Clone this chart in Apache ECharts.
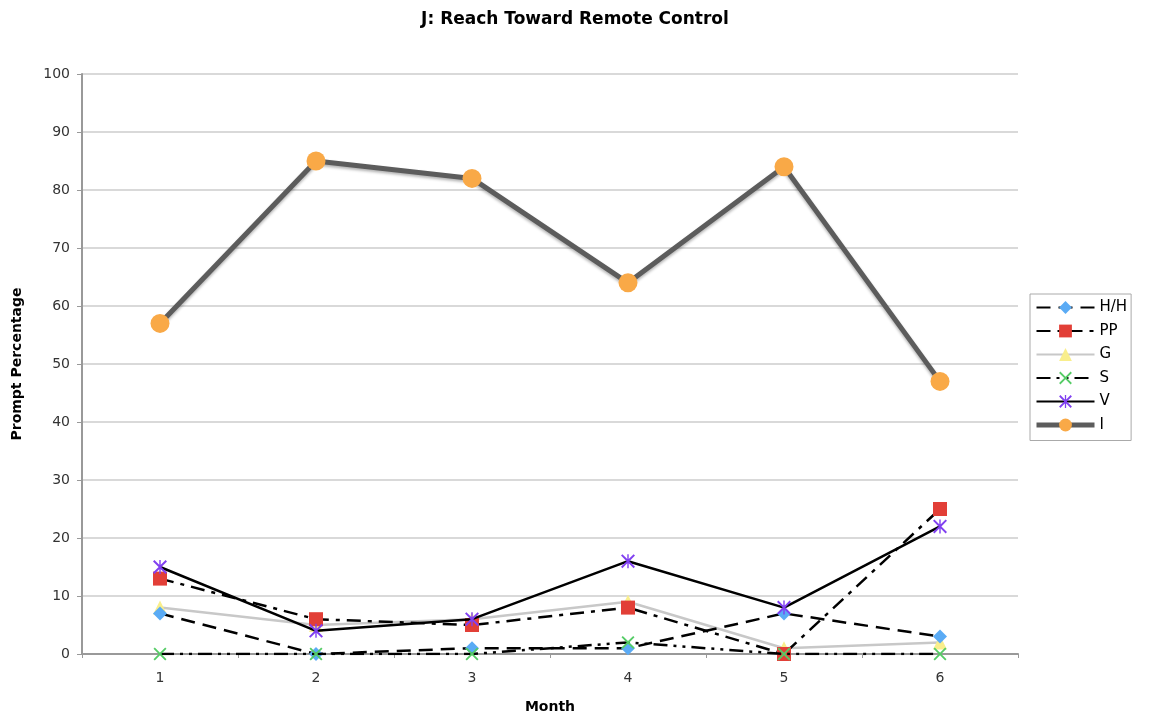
<!DOCTYPE html>
<html>
<head>
<meta charset="utf-8">
<script src="https://cdn.jsdelivr.net/npm/echarts@6/dist/echarts.min.js"></script>
<style>
  html, body { margin: 0; padding: 0; background: #fff; }
  #chart { width: 1150px; height: 719px; }
</style>
</head>
<body>
<div id="chart"></div>
<script>
// 数据
const months = ['1', '2', '3', '4', '5', '6']
const hh = [7, 0, 1, 1, 7, 3]
const pp = [13, 6, 5, 8, 0, 25]
const g = [8, 5, 6, 9, 1, 2]
const s = [0, 0, 0, 2, 0, 0]
const v = [15, 4, 6, 16, 8, 22]
const iVals = [57, 85, 82, 64, 84, 47]

// 自定义符号
const xPath = 'path://M0,2 L2,0 L10,8 L18,0 L20,2 L12,10 L20,18 L18,20 L10,12 L2,20 L0,18 L8,10 Z'
const starPath = 'path://M0,2 L2,0 L10,8 L18,0 L20,2 L12,10 L20,18 L18,20 L10,12 L2,20 L0,18 L8,10 Z M9,0 L11,0 L11,20 L9,20 Z'

const myChart = echarts.init(document.querySelector('#chart'))

const mk = (name, data, line, symbol, size, color, z) => ({
  name,
  type: 'line',
  data,
  symbol,
  symbolSize: size,
  z,
  itemStyle: { color, borderWidth: 0 },
  lineStyle: line,
  emphasis: { disabled: true },
  animation: false
})

const option = {
  title: {
    text: 'J: Reach Toward Remote Control',
    left: 'center',
    top: 6,
    textStyle: { fontFamily: 'DejaVu Sans', fontSize: 17, fontWeight: 'bold', color: '#000' }
  },
  grid: { left: 82, right: 132, top: 74, bottom: 65, containLabel: false, outerBoundsMode: 'none' },
  legend: {
    orient: 'vertical',
    left: 1030,
    top: 294,
    padding: [6, 4, 8, 4],
    itemGap: 8.5,
    itemWidth: 58,
    itemHeight: 16,
    borderColor: '#aaa',
    borderWidth: 1,
    textStyle: { fontFamily: 'DejaVu Sans', fontSize: 15, color: '#000' },
    data: [
      { name: 'H/H' },
      { name: 'PP' },
      { name: 'G' },
      { name: 'S' },
      { name: 'V' },
      { name: 'I', lineStyle: { width: 5 } }
    ]
  },
  xAxis: {
    type: 'category',
    data: months,
    name: 'Month',
    nameLocation: 'middle',
    nameGap: 46,
    nameTextStyle: { fontFamily: 'DejaVu Sans', fontSize: 14, fontWeight: 'bold', color: '#000' },
    axisLine: { lineStyle: { color: '#999', width: 2 } },
    axisTick: { show: true, length: 4, lineStyle: { color: '#999' } },
    axisLabel: { fontFamily: 'DejaVu Sans', fontSize: 14, color: '#333', margin: 17 }
  },
  yAxis: {
    type: 'value',
    min: 0,
    max: 100,
    interval: 10,
    name: 'Prompt Percentage',
    nameLocation: 'middle',
    nameGap: 58,
    nameTextStyle: { fontFamily: 'DejaVu Sans', fontSize: 14, fontWeight: 'bold', color: '#000' },
    axisLine: { show: true, lineStyle: { color: '#999', width: 2 } },
    axisTick: { show: true, length: 5, lineStyle: { color: '#999' } },
    axisLabel: { fontFamily: 'DejaVu Sans', fontSize: 14, color: '#333', margin: 12 },
    splitLine: { lineStyle: { color: '#ccc', width: 1.5 } }
  },
  series: [
    mk('H/H', hh, { color: '#000', width: 2.5, type: [14, 8] }, 'diamond', 14, '#5aabf5', 5),
    mk('PP', pp, { color: '#000', width: 2.5, type: [14, 7, 4, 7] }, 'rect', 14, '#e23f37', 4),
    mk('G', g, { color: '#c8c8c8', width: 2.5 }, 'triangle', 14, '#f9ee8c', 3),
    mk('S', s, { color: '#000', width: 2.5, type: [14, 6, 3, 6, 3, 6] }, xPath, 13, '#55cc66', 6),
    mk('V', v, { color: '#000', width: 2.5 }, starPath, 14, '#8040f0', 7),
    mk('I', iVals, { color: '#5c5c5c', width: 5, shadowColor: 'rgba(0,0,0,0.3)', shadowBlur: 3, shadowOffsetY: 2 }, 'circle', 19, '#f9a947', 8)
  ]
}
myChart.setOption(option)
</script>
</body>
</html>
